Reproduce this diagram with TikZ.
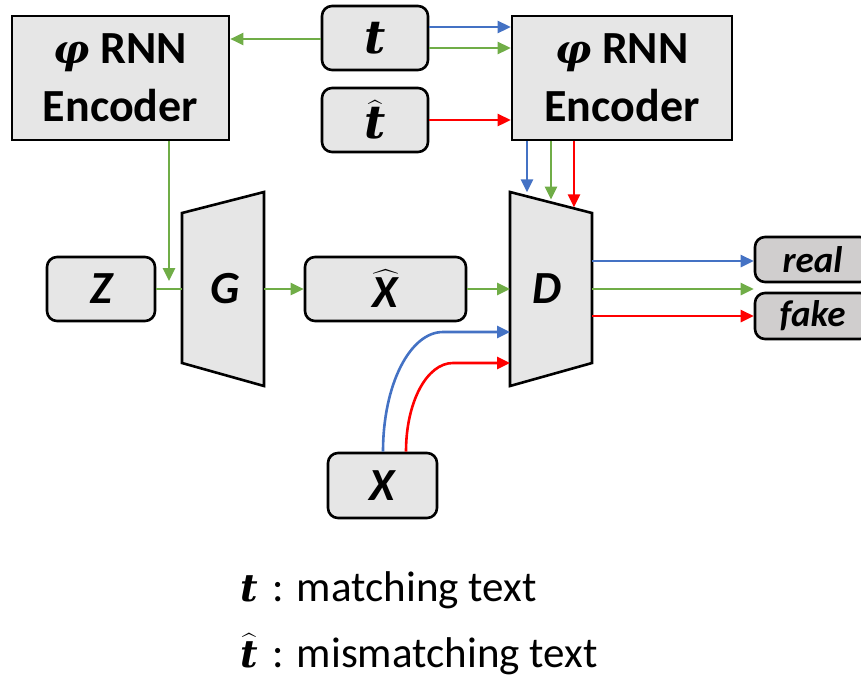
\RequirePackage{fix-cm}
\documentclass[tikz,border=0pt]{standalone}
\usepackage{fontspec}
\setmainfont{Carlito}
\newfontfamily\dvs{DejaVu Serif}
\usepackage{amsmath}
\usetikzlibrary{arrows.meta,calc}
\definecolor{cblue}{HTML}{4472C4}
\definecolor{cgreen}{HTML}{70AD47}
\definecolor{cred}{HTML}{FF0000}
\definecolor{boxfill}{HTML}{E6E6E6}
\definecolor{outfill}{HTML}{D0CECE}
\newcommand{\tsym}{\text{\dvs\bfseries\itshape t}}
\newcommand{\phisym}{{\dvs\bfseries\itshape φ}}
\tikzset{
  encbox/.style={draw, line width=2.6pt, fill=boxfill, minimum width=217pt, minimum height=124pt, inner sep=0pt, align=center, font=\fontsize{46}{58}\selectfont\bfseries},
  rbox/.style={draw, line width=2.6pt, fill=boxfill, rounded corners=10pt, inner sep=0pt},
  outbox/.style={rbox, fill=outfill, minimum width=115pt, minimum height=45pt, font=\fontsize{37}{37}\selectfont\bfseries\itshape},
  trap/.style={draw, line width=2.6pt, fill=boxfill, line join=miter},
  lbl/.style={inner sep=0pt, font=\fontsize{46}{46}\selectfont\bfseries\itshape},
  arr/.style={line width=2.6pt, -{Triangle[length=13pt,width=12pt]}},
  plain/.style={line width=2.6pt},
  legend/.style={anchor=base west, inner sep=0pt, font=\fontsize{43}{43}\selectfont}
}
\begin{document}
\begin{tikzpicture}[x=1pt,y=-1pt]
\useasboundingbox (0,0) rectangle (861,688);
\clip (0,0) rectangle (861,688);

% encoders
\node[encbox] (encL) at (120.5,78) {{\fontsize{40}{40}\selectfont\phisym} RNN\\Encoder};
\node[encbox, minimum width=220pt] (encR) at (622,78) {{\fontsize{40}{40}\selectfont\phisym} RNN\\Encoder};

% text boxes
\node[rbox, minimum width=106pt, minimum height=64pt] (t) at (375,38) {\fontsize{46}{46}\selectfont$\tsym$};
\node[rbox, minimum width=106pt, minimum height=64pt] (th) at (375,120) {\fontsize{46}{46}\selectfont$\widehat{\tsym}$};

% Z, Xhat, X
\node[rbox, minimum width=108pt, minimum height=64pt, lbl] (Z) at (101,289) {Z};
\node[rbox, minimum width=161pt, minimum height=64pt, lbl] (Xh) at (385.5,289) {$\widehat{\text{\bfseries\itshape X}}$};
\node[rbox, minimum width=109pt, minimum height=65pt, lbl] (X) at (382.5,485.5) {X};

% trapezoids
\draw[trap] (182,213) -- (264,192) -- (264,386) -- (182,363) -- cycle;
\node[lbl] (G) at (225,289) {G};
\draw[trap] (510,192) coordinate (Dtl) -- (592,213) coordinate (Dtr) -- (592,363) -- (510,386) -- cycle;
\node[lbl] (D) at (547,289) {D};

% outputs
\node[outbox] (real) at (812.5,259.5) {real};
\node[outbox, minimum height=46pt] (fake) at (812.5,316) {fake};

% coordinates on G and D edges
\coordinate (Gl) at (182,289);
\coordinate (Gr) at (264,289);
\coordinate (Dl) at (510,289);
\coordinate (Dl1) at (510,332);
\coordinate (Dl2) at (510,363);
\coordinate (Dr1) at (592,261);
\coordinate (Dr2) at (592,289);
\coordinate (Dr3) at (592,316);
\coordinate (ZG) at (169,289);
\coordinate (Dt1) at ($(Dtl)!0.207!(Dtr)$);
\coordinate (Dt2) at ($(Dtl)!0.5!(Dtr)$);
\coordinate (Dt3) at ($(Dtl)!0.78!(Dtr)$);
\coordinate (Bc) at (443,332);
\coordinate (Rc) at (453,363);

% connectors top
\draw[arr, cgreen] (t.west |- 0,39) -- (encL.east |- 0,39);
\draw[arr, cblue] ([yshift=11pt]t.east) -- ([yshift=11pt]t.east -| encR.west);
\draw[arr, cgreen] ([yshift=-10pt]t.east) -- ([yshift=-10pt]t.east -| encR.west);
\draw[arr, cred] (th.east) -- (th.east -| encR.west);

% encoder down
\draw[arr, cblue] (encR.south -| Dt1) -- ([yshift=4pt]Dt1);
\draw[arr, cgreen] (encR.south -| Dt2) -- ([yshift=3pt]Dt2);
\draw[arr, cred] (encR.south -| Dt3) -- ([yshift=1pt]Dt3);
\draw[arr, cgreen] (encL.south -| ZG) -- ([yshift=8pt]ZG);

% main chain
\draw[plain, cgreen] (Z.east) -- (Gl);
\draw[arr, cgreen] (Gr) -- (Xh.west);
\draw[arr, cgreen] (Xh.east) -- (Dl);

% outputs
\draw[arr, cblue] (Dr1) -- (Dr1 -| real.west);
\draw[arr, cgreen] (Dr2) -- (Dr2 -| real.west);
\draw[arr, cred] (Dr3) -- (Dr3 -| fake.west);

% real X curves
\draw[arr, cblue] ([xshift=0.5pt]X.north) .. controls +(0,-67) and +(-33,0) .. (Bc) -- (Dl1);
\draw[arr, cred] ([xshift=23.5pt]X.north) .. controls +(0,-50) and +(-26,0) .. (Rc) -- (Dl2);

% legend
\node[legend] (leg1) at (240,601) {{\fontsize{38}{38}\selectfont$\tsym$}\hspace{5pt} : matching text};
\node[legend] (leg2) at (240,667) {{\fontsize{38}{38}\selectfont$\widehat{\tsym}$}\hspace{5pt} : mismatching text};
\end{tikzpicture}
\end{document}
